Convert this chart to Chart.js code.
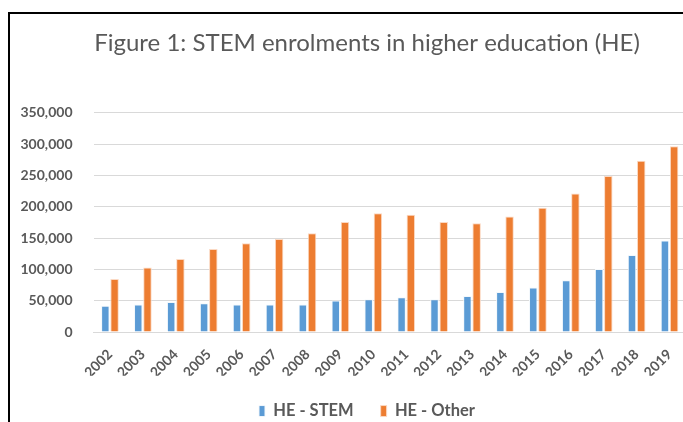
<!DOCTYPE html>
<html>
<head>
<meta charset="utf-8">
<script src="https://cdn.jsdelivr.net/npm/chart.js@4"></script>
<style>
  body { margin: 0; background: #fff; overflow: hidden; }
  #frame {
    position: absolute; left: 8px; top: 12px;
    width: 730px; height: 440px;
    border-left: 2px solid #000; border-top: 2px solid #000;
  }
  #wrap { position: absolute; left: 0; top: 0; width: 714px; height: 415.25px; }
</style>
</head>
<body>
<div id="frame"><div id="wrap"><canvas id="stemChart"></canvas></div></div>
<script>
// данные
const years = ['2002', '2003', '2004', '2005', '2006', '2007', '2008', '2009', '2010',
               '2011', '2012', '2013', '2014', '2015', '2016', '2017', '2018', '2019'];
const stem = [42000, 44000, 48000, 46000, 44000, 44000, 44000, 50500, 52500,
              55500, 52500, 57500, 64000, 71000, 82500, 100500, 123000, 146000];
const other = [84500, 103000, 116500, 132500, 141500, 148500, 157500, 175500, 189500,
               187000, 175500, 173500, 184500, 198500, 221000, 249000, 273500, 296500];
const yTicks = [0, 50000, 100000, 150000, 200000, 250000, 300000, 350000];

const grey = '#595959';

function drawChart() {
    const ctx = document.getElementById('stemChart').getContext('2d');
    new Chart(ctx, {
        type: 'bar',
        data: {
            labels: years,
            datasets: [{
                label: 'HE - STEM',
                data: stem,
                backgroundColor: '#5b9bd5',
                borderColor: '#f3f8fc',
                borderWidth: 1,
                categoryPercentage: 0.56,
                barPercentage: 0.92
            }, {
                label: 'HE - Other',
                data: other,
                backgroundColor: '#ed7d31',
                borderColor: '#fbd9c3',
                borderWidth: 1,
                categoryPercentage: 0.56,
                barPercentage: 0.92
            }]
        },
        options: {
            responsive: true,
            maintainAspectRatio: false,
            animation: false,
            layout: { padding: 0 },
            plugins: {
                title: {
                    display: true,
                    text: 'Figure 1: STEM enrolments in higher education (HE)',
                    color: grey,
                    font: { family: 'Lato', size: 24, weight: 'normal' },
                    padding: { top: 14.6, bottom: 55.3 }
                },
                legend: {
                    position: 'bottom',
                    labels: {
                        color: grey,
                        font: { family: 'Lato', size: 16.5, weight: 'bold' },
                        boxWidth: 6,
                        boxHeight: 11,
                        padding: 27
                    }
                },
                tooltip: { enabled: false }
            },
            scales: {
                x: {
                    grid: { display: false },
                    border: { color: '#d9d9d9' },
                    ticks: {
                        color: grey,
                        font: { family: 'Lato', size: 14, weight: 'bold' },
                        minRotation: 45,
                        maxRotation: 45,
                        padding: 6
                    },
                    afterFit: scale => { scale.height = 43.75; }
                },
                y: {
                    min: 0,
                    max: 350000,
                    afterBuildTicks: scale => { scale.ticks = yTicks.map(v => ({ value: v })); },
                    grid: { color: '#d9d9d9', lineWidth: 1, drawTicks: false },
                    border: { display: false },
                    ticks: {
                        color: grey,
                        font: { family: 'Lato', size: 14, weight: 'bold' },
                        padding: 21,
                        callback: v => v.toLocaleString('en-US')
                    },
                    afterFit: scale => { scale.width = 83.5; }
                },
                // пустая ось справа, чтобы заголовок и легенда были по центру всей рамки
                spacer: {
                    position: 'right',
                    grid: { display: false },
                    border: { display: false },
                    ticks: { display: false },
                    afterFit: scale => { scale.width = 38; }
                }
            }
        }
    });
}

document.addEventListener('DOMContentLoaded', drawChart);
</script>
</body>
</html>
